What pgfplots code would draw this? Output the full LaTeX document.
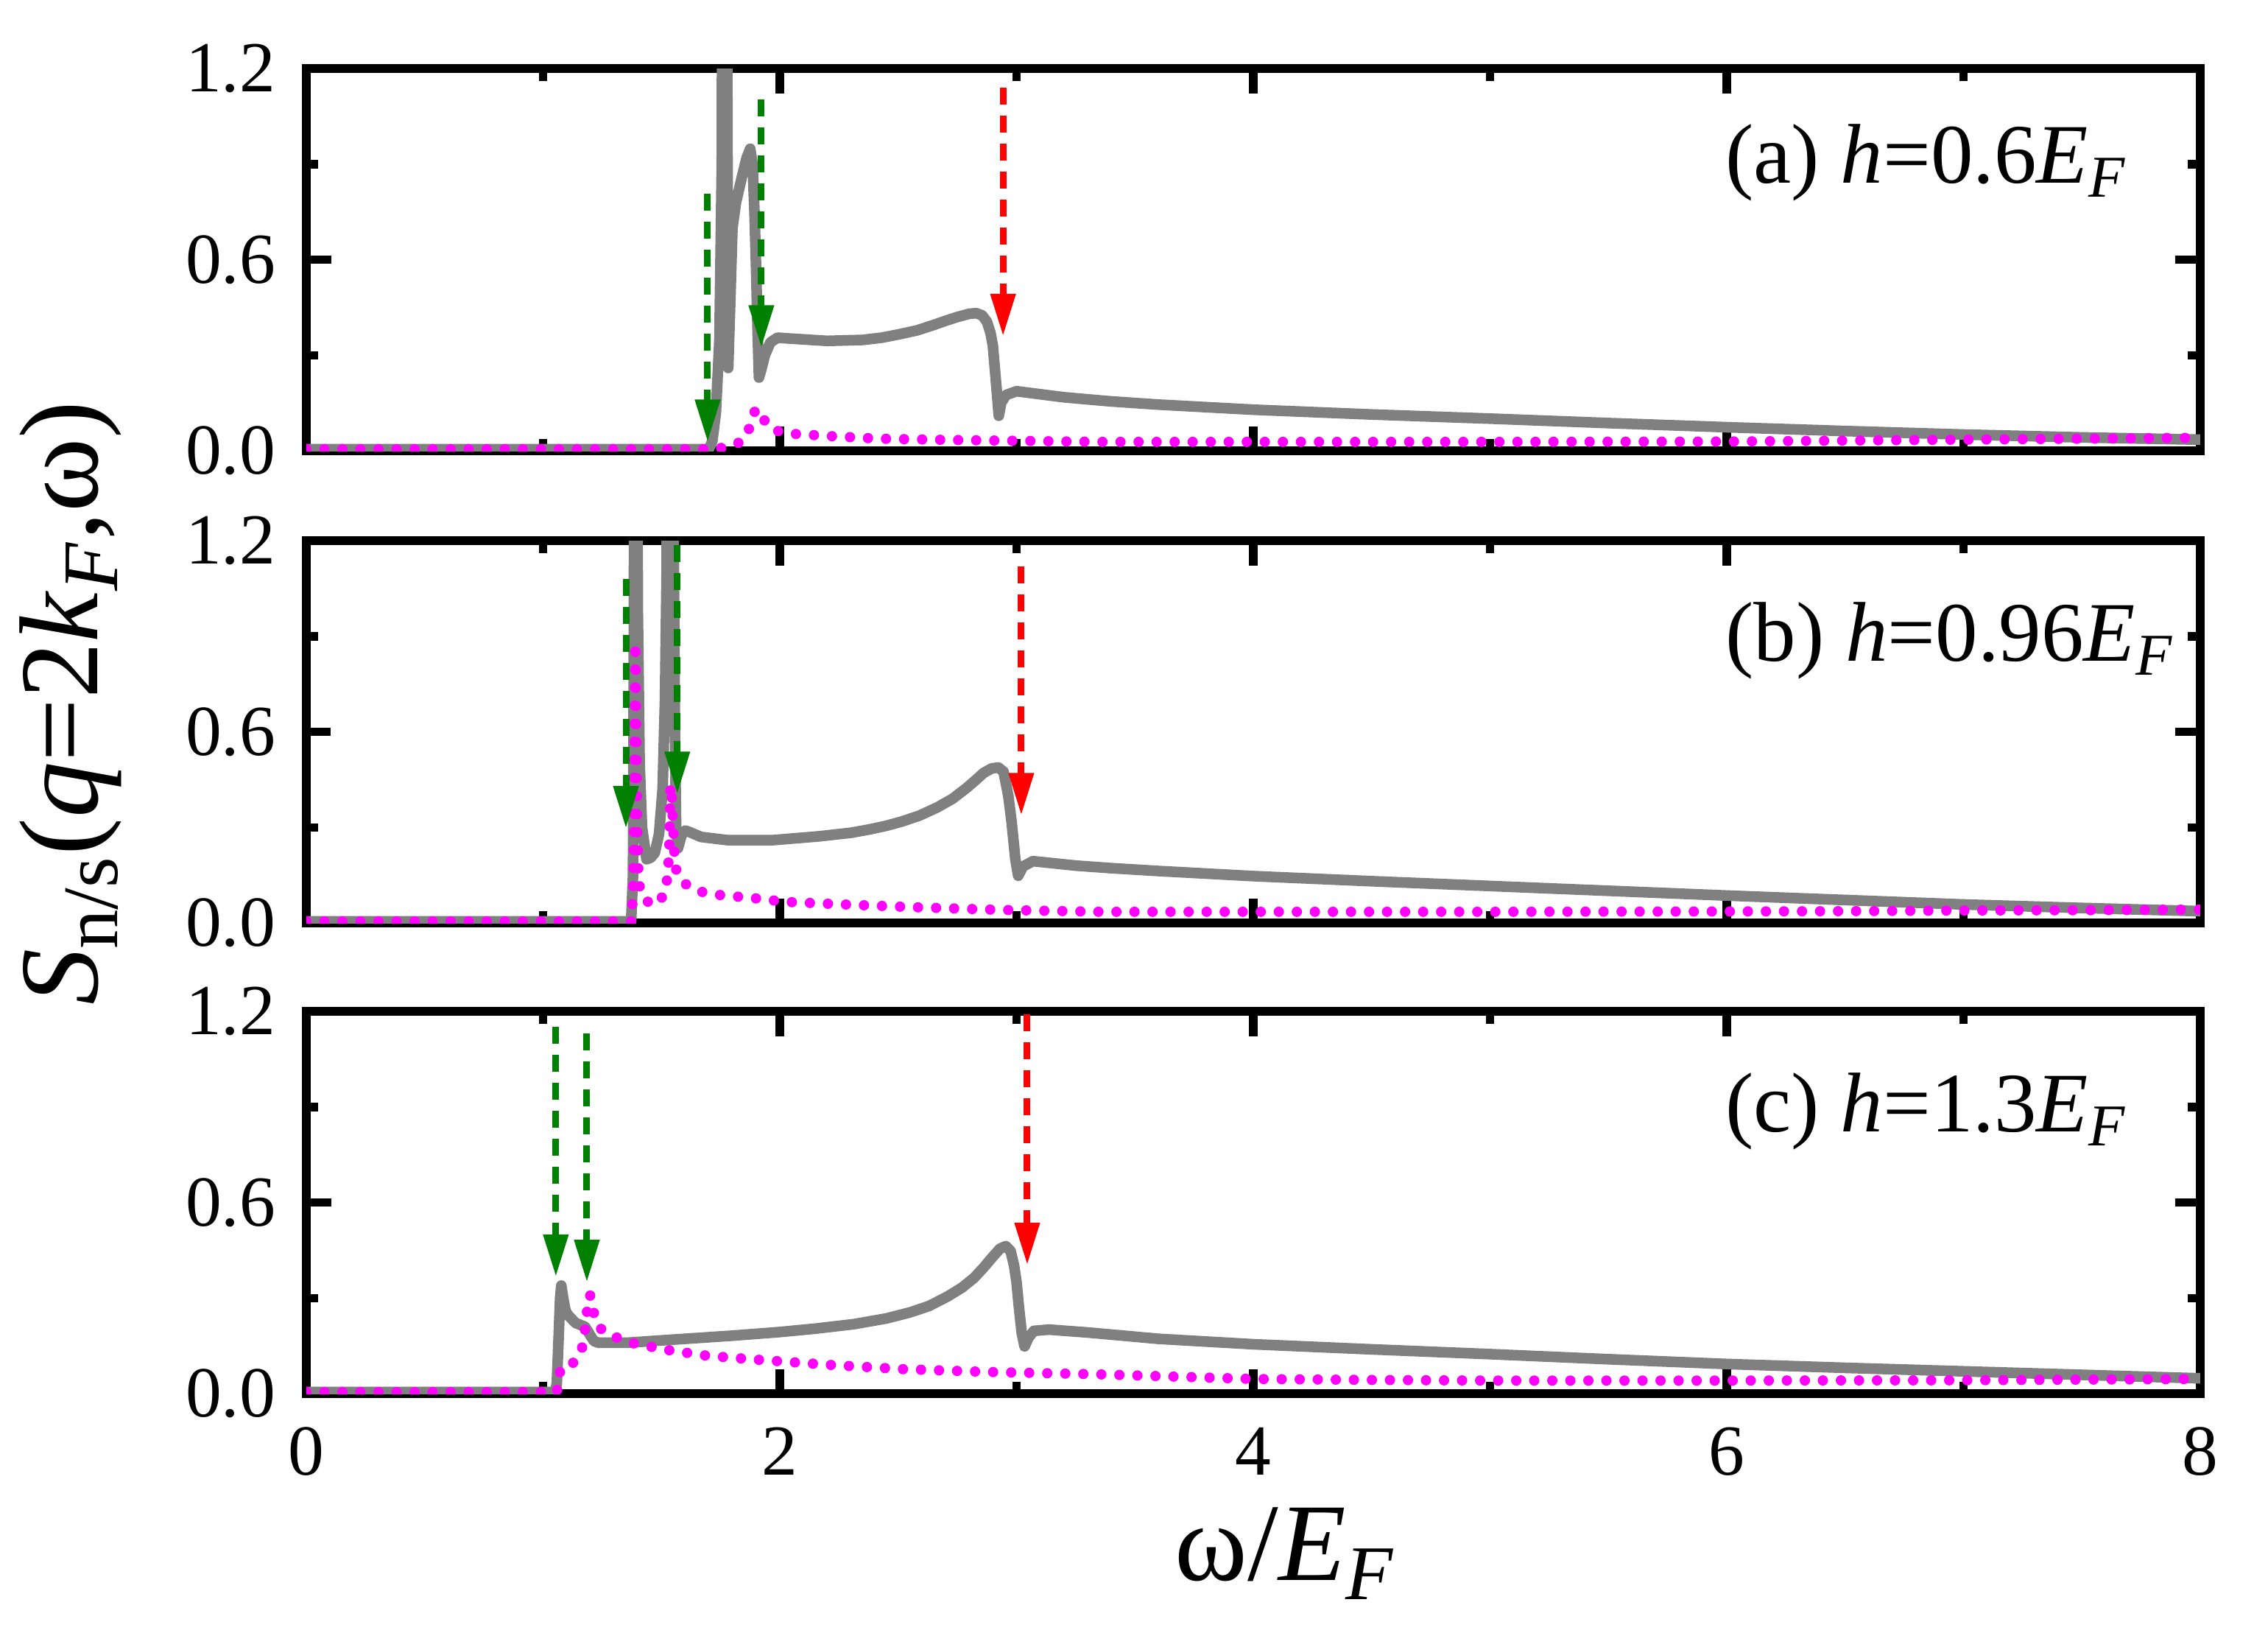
\documentclass[border=0pt]{standalone}
\usepackage{fontspec}
\setmainfont{Liberation Serif}
\usepackage{pgfplots}
\pgfplotsset{compat=1.18}
\usetikzlibrary{arrows.meta}
\definecolor{cgray}{HTML}{808080}
\definecolor{cmag}{HTML}{FF00FF}
\definecolor{cgreen}{HTML}{008000}
\definecolor{cred}{HTML}{FF0000}
\tikzset{plab/.style={anchor=base west, font=\fontsize{23}{26}\selectfont, inner sep=0pt}}
\pgfplotsset{
  panel/.style={
    scale only axis, width=514.4pt, height=103.8pt,
    xmin=0, xmax=8, ymin=0, ymax=1.2,
    xtick={0,2,4,6,8}, minor xtick={1,3,5,7},
    ytick={0,0.6,1.2}, minor ytick={0.3,0.9},
    tick align=inside,
    major tick length=6.7pt, minor tick length=3.3pt,
    axis line style={line width=2.3pt},
    every tick/.append style={black, line width=2.3pt},
    /pgf/number format/assume math mode=true,
    yticklabel style={font=\fontsize{19.5}{22}\selectfont, anchor=east, inner sep=0pt, xshift=-8.2pt,
      /pgf/number format/.cd, fixed, fixed zerofill, precision=1},
    xticklabel style={font=\fontsize{19.5}{22}\selectfont, anchor=north, inner sep=0pt, yshift=-9pt},
  },
  gr/.style={cgray, line width=2.9pt, line join=round},
  mg/.style={cmag, line width=2.8pt, line cap=round, dash pattern=on 0pt off 4.9pt},
  ga/.style={cgreen, line width=1.8pt, dash pattern=on 4.6pt off 3pt, -{Triangle[width=6.5pt,length=11.5pt]}},
  ra/.style={cred, line width=1.8pt, dash pattern=on 4.6pt off 3pt, -{Triangle[width=6.5pt,length=11.5pt]}},
}
\begin{document}
\begin{tikzpicture}
% ---------------- panel (a)
\begin{axis}[panel, at={(0pt,0pt)}, anchor=north west, xticklabels={}]
\addplot[gr] coordinates {
(0,0.005)(1.70,0.005)(1.715,0.03)(1.730,0.12)(1.745,0.35)(1.755,0.9)(1.760,2.5)(1.772,2.5)(1.778,1.2)(1.782,0.26)
(1.790,0.45)(1.800,0.70)(1.815,0.78)(1.840,0.86)(1.860,0.92)(1.875,0.948)(1.885,0.90)(1.893,0.75)(1.900,0.57)
(1.906,0.38)(1.912,0.23)(1.920,0.25)(1.937,0.30)(1.960,0.34)(1.990,0.355)(2.05,0.352)(2.20,0.345)(2.35,0.348)
(2.43,0.355)(2.50,0.365)(2.58,0.378)(2.65,0.395)(2.70,0.408)(2.75,0.42)(2.80,0.43)(2.83,0.432)(2.855,0.425)
(2.875,0.405)(2.89,0.37)(2.90,0.33)(2.915,0.20)(2.925,0.11)(2.935,0.15)
(2.955,0.175)(3.0,0.187)(3.2,0.168)(3.4,0.155)(3.6,0.145)(4.0,0.129)(4.5,0.114)(5.0,0.101)(5.5,0.087)
(6.0,0.074)(6.5,0.062)(7.0,0.051)(7.5,0.042)(8.0,0.035)};
\addplot[mg] coordinates {
(0,0.005)(1.72,0.005)(1.777,0.012)(1.833,0.027)(1.860,0.05)(1.875,0.079)(1.888,0.11)(1.898,0.132)(1.910,0.125)
(1.926,0.105)(1.950,0.08)(1.975,0.065)(2.04,0.054)(2.19,0.047)(2.42,0.038)(2.72,0.034)(3.14,0.03)(3.35,0.028)
(4,0.028)(5,0.028)(6,0.029)(6.5,0.032)(7,0.035)(7.5,0.038)(8,0.041)};
\addplot[ga] coordinates {(1.695,0.807)(1.695,0.028)};
\addplot[ga] coordinates {(1.922,1.103)(1.922,0.324)};
\addplot[ra] coordinates {(2.943,1.14)(2.943,0.36)};
\node[plab] at (rel axis cs:0.749,0.70) {(a) \textit{h}=0.6\textit{E}\textsubscript{\textit{F}}};
\end{axis}
% ---------------- panel (b)
\begin{axis}[panel, at={(0pt,-128.2pt)}, anchor=north west, xticklabels={},
  ylabel={\textit{S}\textsubscript{n/s}(\textit{q}=2\textit{k}\textsubscript{\textit{F}},ω)},
  every axis y label/.style={at={(axis description cs:-0.1104,0.575)}, rotate=90, anchor=base,
    font=\fontsize{30.5}{34}\selectfont, inner sep=0pt}]
\addplot[gr] coordinates {
(0,0.005)(1.372,0.005)(1.380,0.15)(1.384,1.0)(1.386,2.5)(1.396,2.5)(1.400,1.0)(1.408,0.5)(1.418,0.3)(1.437,0.20)
(1.455,0.205)(1.472,0.22)(1.49,0.28)(1.505,0.42)(1.515,0.7)(1.522,1.1)(1.528,2.5)(1.540,2.5)(1.552,1.2)
(1.557,0.6)(1.562,0.3)(1.570,0.235)(1.585,0.275)(1.60,0.29)(1.62,0.285)(1.667,0.27)(1.778,0.26)(1.972,0.26)
(2.167,0.272)(2.30,0.283)(2.375,0.293)(2.45,0.305)(2.514,0.318)(2.59,0.337)(2.666,0.363)(2.73,0.39)
(2.791,0.425)(2.83,0.45)(2.861,0.471)(2.895,0.485)(2.923,0.488)(2.945,0.475)
(2.965,0.40)(2.979,0.318)(2.995,0.20)(3.007,0.148)(3.027,0.177)(3.069,0.194)(3.25,0.18)(3.4,0.172)(3.6,0.163)
(4.0,0.147)(4.5,0.131)(5.0,0.116)(5.5,0.101)(6.0,0.086)(6.5,0.072)(7.0,0.058)(7.5,0.047)(8.0,0.037)};
\addplot[mg] coordinates {
(0,0.005)(1.375,0.005)(1.383,0.2)(1.387,0.6)(1.390,0.88)(1.394,0.6)(1.398,0.3)(1.403,0.152)(1.41,0.102)
(1.435,0.07)(1.465,0.057)(1.49,0.065)(1.516,0.098)(1.527,0.152)(1.533,0.235)(1.538,0.433)(1.543,0.40)
(1.550,0.30)(1.556,0.20)(1.563,0.164)(1.597,0.124)(1.667,0.098)(1.743,0.088)(1.888,0.078)(2.027,0.066)
(2.305,0.057)(2.583,0.049)(2.931,0.041)(3.35,0.035)(4,0.035)(5,0.035)(6,0.036)(6.5,0.037)(7,0.039)(7.5,0.040)(8,0.042)};
\addplot[ga] coordinates {(1.35,1.08)(1.35,0.297)};
\addplot[ga] coordinates {(1.567,1.186)(1.567,0.405)};
\addplot[ra] coordinates {(3.02,1.12)(3.02,0.338)};
\node[plab] at (rel axis cs:0.749,0.685) {(b) \textit{h}=0.96\textit{E}\textsubscript{\textit{F}}};
\end{axis}
% ---------------- panel (c)
\begin{axis}[panel, at={(0pt,-256pt)}, anchor=north west,
  xlabel={ω/\textit{E}\textsubscript{\textit{F}}},
  every axis x label/.style={at={(axis description cs:0.517,-0.488)}, anchor=base,
    font=\fontsize{30}{34}\selectfont, inner sep=0pt}]
\addplot[gr] coordinates {
(0,0.005)(1.05,0.005)(1.058,0.03)(1.066,0.18)(1.072,0.3)(1.077,0.339)(1.085,0.30)(1.095,0.26)(1.105,0.247)
(1.137,0.222)(1.160,0.215)(1.177,0.21)(1.190,0.195)(1.201,0.181)(1.215,0.165)(1.233,0.160)(1.359,0.160)
(1.598,0.172)(1.80,0.182)(1.994,0.193)(2.15,0.204)(2.312,0.218)(2.45,0.236)(2.55,0.255)(2.63,0.275)
(2.709,0.305)(2.77,0.333)(2.82,0.363)(2.86,0.395)(2.90,0.43)(2.93,0.455)(2.955,0.463)(2.975,0.448)
(2.99,0.40)(3.0,0.35)(3.01,0.272)(3.022,0.19)(3.034,0.148)(3.05,0.175)(3.073,0.197)(3.137,0.201)(3.3,0.192)
(3.6,0.172)(4.0,0.155)(4.5,0.139)(5.0,0.124)(5.5,0.108)(6.0,0.093)(6.5,0.081)(7.0,0.070)(7.5,0.059)(8.0,0.048)};
\addplot[mg] coordinates {
(0,0.005)(1.058,0.005)(1.066,0.04)(1.074,0.081)(1.10,0.088)(1.122,0.093)(1.15,0.115)(1.166,0.147)(1.177,0.2)
(1.185,0.255)(1.197,0.31)(1.209,0.296)(1.216,0.243)(1.23,0.215)(1.252,0.198)(1.32,0.173)(1.391,0.156)
(1.542,0.135)(1.693,0.119)(1.915,0.106)(2.216,0.09)(2.518,0.077)(2.883,0.068)(3.328,0.061)(3.6,0.055)
(4,0.046)(4.5,0.043)(5,0.041)(6,0.041)(7,0.042)(8,0.046)};
\addplot[ga] coordinates {(1.054,1.151)(1.054,0.367)};
\addplot[ga] coordinates {(1.185,1.13)(1.185,0.35)};
\addplot[ra] coordinates {(3.045,1.19)(3.045,0.404)};
\node[plab] at (rel axis cs:0.749,0.685) {(c) \textit{h}=1.3\textit{E}\textsubscript{\textit{F}}};
\end{axis}
\pgfresetboundingbox
\useasboundingbox (-83.2pt,18.6pt) rectangle (532.8pt,-428.6pt);
\end{tikzpicture}
\end{document}
